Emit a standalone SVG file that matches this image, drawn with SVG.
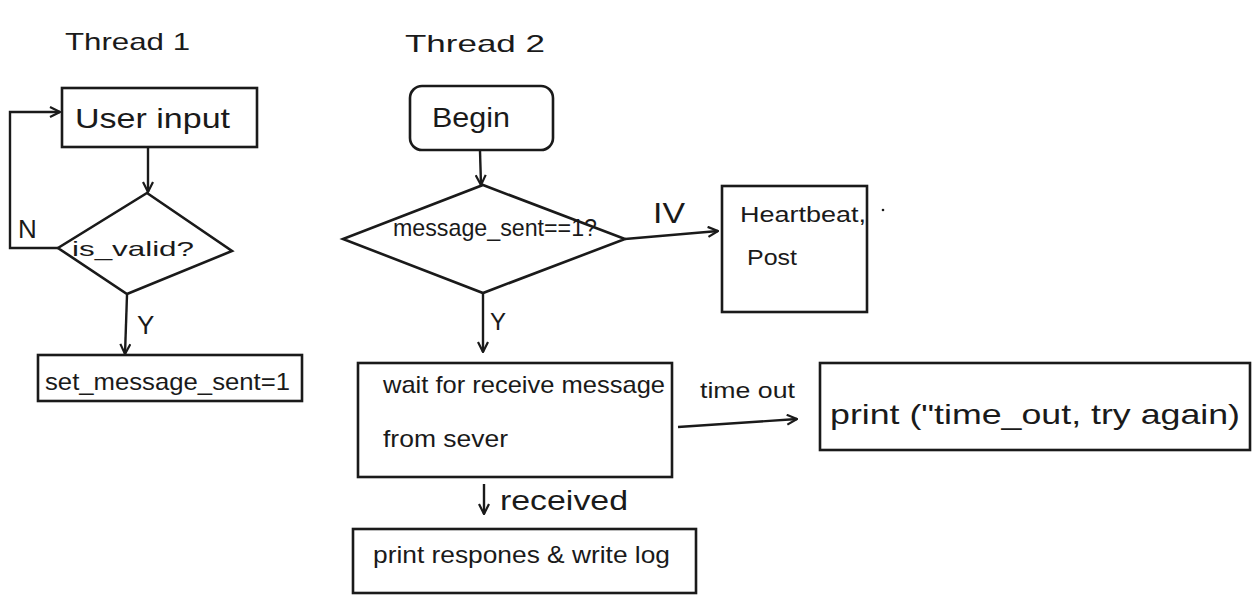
<svg xmlns="http://www.w3.org/2000/svg" width="1258" height="600" viewBox="0 0 1258 600">
<style>
.box{fill:none;stroke:#1a1a1a;stroke-width:2.6}
.ln{fill:none;stroke:#1a1a1a;stroke-width:2.4;marker-end:url(#arr)}
.t{font-family:"Liberation Sans",Arial,sans-serif;fill:#1a1a1a}
</style>
<defs>
<marker id="arr" viewBox="0 0 12 12" refX="11" refY="6" markerWidth="12" markerHeight="12" markerUnits="userSpaceOnUse" orient="auto">
<polyline points="1,1 11,6 1,11" fill="none" stroke="#1a1a1a" stroke-width="2.2"/>
</marker>
</defs>
<rect width="1258" height="600" fill="#ffffff"/>
<g id="titles">
<text class="t" x="65" y="50" font-size="24" textLength="125" lengthAdjust="spacingAndGlyphs">Thread 1</text>
<text class="t" x="405" y="52" font-size="24" textLength="140" lengthAdjust="spacingAndGlyphs">Thread 2</text>
</g>
<g id="user_input">
<rect class="box" x="62" y="88" width="195" height="59"/>
<text class="t" x="75" y="128" font-size="28" textLength="155" lengthAdjust="spacingAndGlyphs">User input</text>
</g>
<g id="is_valid">
<polygon class="box" points="147,193 232,251 127,294 58,248"/>
<text class="t" x="72" y="256" font-size="21" textLength="122" lengthAdjust="spacingAndGlyphs">is_valid?</text>
</g>
<g id="set_sent">
<rect class="box" x="38" y="355" width="264" height="46"/>
<text class="t" x="45" y="390" font-size="24" textLength="245" lengthAdjust="spacingAndGlyphs">set_message_sent=1</text>
</g>
<g id="begin">
<rect class="box" x="410" y="86" width="143" height="64" rx="12"/>
<text class="t" x="432" y="127" font-size="28" textLength="78" lengthAdjust="spacingAndGlyphs">Begin</text>
</g>
<g id="msg_sent">
<polygon class="box" points="483,185 625,239 483,293 343,239"/>
<text class="t" x="393" y="236" font-size="24" textLength="204" lengthAdjust="spacingAndGlyphs">message_sent==1?</text>
</g>
<g id="heartbeat">
<rect class="box" x="722" y="186" width="145" height="126"/>
<text class="t" x="740" y="222" font-size="22" textLength="126" lengthAdjust="spacingAndGlyphs">Heartbeat,</text>
<text class="t" x="747" y="265" font-size="22" textLength="50" lengthAdjust="spacingAndGlyphs">Post</text>
<circle cx="883" cy="210" r="1.3" fill="#1a1a1a"/>
</g>
<g id="wait">
<rect class="box" x="358" y="363" width="314" height="114"/>
<text class="t" x="383" y="393" font-size="24" textLength="282" lengthAdjust="spacingAndGlyphs">wait for receive message</text>
<text class="t" x="383" y="447" font-size="24" textLength="125" lengthAdjust="spacingAndGlyphs">from sever</text>
</g>
<g id="timeout_print">
<rect class="box" x="820" y="363" width="430" height="87"/>
<text class="t" x="830" y="424" font-size="28" textLength="410" lengthAdjust="spacingAndGlyphs">print ("time_out, try again)</text>
</g>
<g id="print_log">
<rect class="box" x="353" y="529" width="343" height="64"/>
<text class="t" x="373" y="563" font-size="24" textLength="297" lengthAdjust="spacingAndGlyphs">print respones &amp; write log</text>
</g>
<g id="connectors">
<line class="ln" x1="148" y1="148" x2="148" y2="192"/>
<polyline class="ln" points="58,248 10,248 10,112 60,112"/>
<line class="ln" x1="127" y1="295" x2="125" y2="354"/>
<line class="ln" x1="480" y1="151" x2="481" y2="185"/>
<line class="ln" x1="625" y1="239" x2="718" y2="231"/>
<line class="ln" x1="483" y1="293" x2="483" y2="352"/>
<line class="ln" x1="678" y1="427" x2="797" y2="419"/>
<line class="ln" x1="484" y1="484" x2="484" y2="514"/>
<text class="t" x="18" y="238" font-size="26">N</text>
<text class="t" x="137" y="334" font-size="26">Y</text>
<text class="t" x="653" y="223" font-size="30" textLength="32" lengthAdjust="spacingAndGlyphs">IV</text>
<text class="t" x="490" y="330" font-size="24">Y</text>
<text class="t" x="700" y="398" font-size="22" textLength="95" lengthAdjust="spacingAndGlyphs">time out</text>
<text class="t" x="500" y="510" font-size="28" textLength="128" lengthAdjust="spacingAndGlyphs">received</text>
</g>
</svg>
